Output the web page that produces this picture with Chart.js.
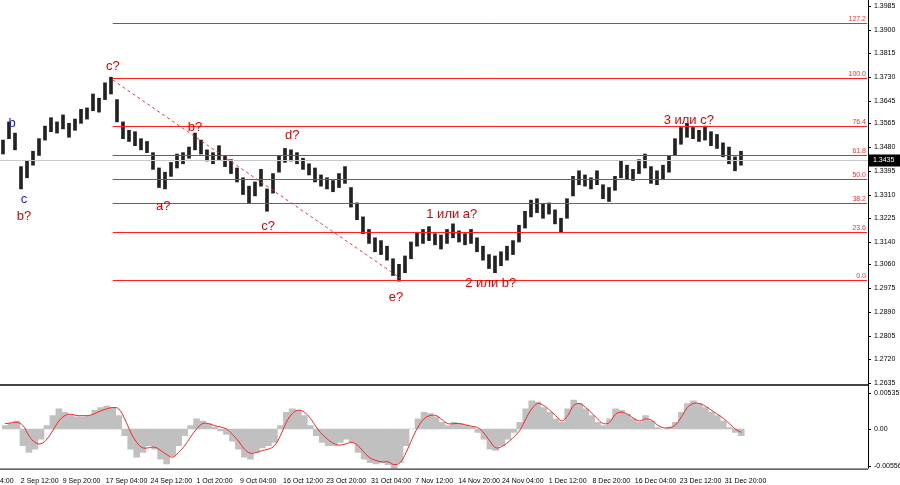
<!DOCTYPE html>
<html><head><meta charset="utf-8">
<script src="https://cdn.jsdelivr.net/npm/chart.js@4/dist/chart.umd.min.js"></script>
<style>
html,body{margin:0;padding:0;background:#fff;width:900px;height:485px;overflow:hidden}
#w1{position:absolute;left:0;top:0;width:900px;height:385px}
#w2{position:absolute;left:0;top:385px;width:900px;height:100px}
#sep{position:absolute;left:0;top:384px;width:868px;height:2px;background:#444}
</style></head><body>
<div id="w1"><canvas id="c1"></canvas></div>
<div id="sep"></div>
<div id="w2"><canvas id="c2"></canvas></div>
<script>
const mids=[1.3480,1.3540,1.3500,1.3370,1.3400,1.3440,1.3480,1.3530,1.3560,1.3550,1.3570,1.3540,1.3560,1.3590,1.3600,1.3640,1.3630,1.3680,1.3700,1.3610,
1.3540,1.3520,1.3510,1.3490,1.3480,1.3430,1.3370,1.3360,1.3400,1.3430,1.3440,1.3460,1.3500,1.3480,1.3450,1.3440,1.3460,1.3430,1.3410,1.3380,
1.3340,1.3310,1.3330,1.3370,1.3290,1.3350,1.3420,1.3450,1.3450,1.3440,1.3420,1.3400,1.3380,1.3360,1.3350,1.3340,1.3360,1.3380,1.3300,1.3250,
1.3200,1.3160,1.3130,1.3120,1.3100,1.3050,1.3030,1.3060,1.3110,1.3150,1.3160,1.3170,1.3150,1.3140,1.3160,1.3180,1.3160,1.3150,1.3160,1.3130,
1.3100,1.3070,1.3060,1.3080,1.3100,1.3120,1.3170,1.3220,1.3260,1.3270,1.3250,1.3260,1.3230,1.3200,1.3260,1.3340,1.3370,1.3360,1.3350,1.3370,
1.3320,1.3310,1.3350,1.3400,1.3390,1.3380,1.3410,1.3430,1.3380,1.3370,1.3390,1.3420,1.3480,1.3520,1.3540,1.3530,1.3520,1.3530,1.3510,1.3500,
1.3470,1.3450,1.3420,1.3440];
const ranges=[5,6,6,8,6,5,6,5,5,4,5,5,4,5,4,6,5,6,6,8,
6,4,5,4,4,6,7,6,5,5,4,4,6,5,4,4,5,4,5,5,
6,6,5,6,8,7,6,5,4,4,4,4,5,4,4,4,5,6,7,6,
6,5,5,5,5,6,6,6,6,5,5,5,4,5,5,5,4,4,5,5,
5,5,6,5,5,5,6,6,6,5,5,4,5,5,7,7,5,4,4,5,
5,5,5,6,5,4,5,5,6,5,5,6,6,6,5,4,4,5,5,5,
5,6,5,5];
const hist=[0.5,0.8,1.2,-2.5,-3.5,-3.0,-1.5,0.5,2.0,3.0,2.5,2.0,1.8,1.8,2.0,2.8,3.2,3.4,3.2,2.0,
-1.0,-3.0,-4.2,-3.5,-2.5,-3.0,-4.5,-5.2,-4.0,-2.5,-1.0,0.5,1.5,1.2,0.8,0.3,-0.3,-0.8,-1.8,-3.0,
-4.2,-4.5,-3.5,-2.8,-2.5,-2.0,0.5,2.5,3.0,2.8,2.0,0.5,-1.0,-2.0,-2.5,-2.5,-2.0,-1.5,-2.0,-3.5,
-4.5,-5.0,-5.2,-5.0,-5.3,-6.0,-5.0,-2.5,0.0,1.5,2.5,2.3,1.8,1.0,0.5,1.0,0.8,0.5,0.3,-0.5,
-1.5,-3.0,-3.2,-2.5,-1.5,-0.5,1.0,3.0,4.2,4.0,3.2,2.5,1.5,1.0,3.0,4.3,3.8,3.0,2.0,1.0,
0.5,1.5,3.0,2.8,2.2,1.5,1.0,2.0,1.2,0.2,0.0,0.3,1.0,2.5,3.8,4.2,3.8,3.2,2.5,2.0,
1.2,0.2,-0.5,-1.0];
const signal=[0.8,0.9,1.0,0.5,-1.0,-2.0,-2.2,-1.5,-0.2,1.2,2.0,2.2,2.0,2.0,2.0,2.3,2.7,3.0,3.2,3.0,
1.5,-0.5,-2.0,-2.8,-2.8,-2.7,-3.2,-3.8,-4.2,-3.5,-2.5,-1.2,0.0,0.8,0.8,0.5,0.3,0.0,-0.8,-1.8,
-3.0,-3.6,-3.5,-3.2,-3.0,-2.5,-1.0,1.0,2.3,2.8,2.5,1.6,0.3,-0.8,-1.6,-2.2,-2.4,-2.2,-2.0,-2.5,
-3.5,-4.3,-4.7,-4.9,-4.9,-5.3,-5.0,-3.5,-1.5,0.3,1.5,2.0,2.0,1.4,0.8,0.8,0.8,0.6,0.4,0.2,
-0.6,-1.8,-2.8,-2.6,-2.0,-1.2,-0.2,1.5,3.0,3.8,3.5,2.8,2.0,1.2,2.0,3.5,3.8,3.2,2.4,1.5,
0.8,1.0,2.2,2.5,2.2,1.6,1.2,1.5,1.3,0.6,0.2,0.2,0.6,1.8,3.2,3.8,3.8,3.4,2.8,2.2,
1.6,0.8,0.0,-0.5];
const priceTicks=[1.3985,1.3900,1.3815,1.3730,1.3645,1.3565,1.3480,1.3395,1.3310,1.3225,1.3140,1.3060,1.2975,1.2890,1.2805,1.2720,1.2635];
const macdTicks=[5.35,0,-5.56];
const macdTickLabels=["0.00535","0.00","-0.00556"];
const timeLabels=["4:00","2 Sep 12:00","9 Sep 20:00","17 Sep 04:00","24 Sep 12:00","1 Oct 20:00","9 Oct 04:00","16 Oct 12:00","23 Oct 20:00","31 Oct 04:00","7 Nov 12:00","14 Nov 20:00","24 Nov 04:00","1 Dec 12:00","8 Dec 20:00","16 Dec 04:00","23 Dec 12:00","31 Dec 20:00"];
const timePos=[0.3,5.8,12.8,20.3,27.8,35.0,42.3,49.8,57.0,64.5,71.7,79.2,86.5,94.0,101.3,108.7,116.2,123.7];
const fibNames=["127.2","100.0","76.4","61.8","50.0","38.2","23.6","0.0"];
const fibPrices=[1.3924,1.3727,1.3556,1.3451,1.3366,1.3280,1.3175,1.3004];
const fibStart=18.3;
const lastPrice=1.3435;
const waveText=["b","c","b?","c?","b?","a?","c?","d?","e?","1 или а?","2 или b?","3 или с?"];
const waveIdx=[1.5,3.5,3.5,18.3,32.0,26.7,44.2,48.2,65.5,74.8,81.3,114.3];
const wavePrice=[1.3563,1.3294,1.3233,1.3767,1.3552,1.3269,1.3197,1.3520,1.2943,1.3240,1.2993,1.3577];
const waveColor=["#2020d0","#2020d0","#e00000","#e00000","#e00000","#e00000","#e00000","#e00000","#e00000","#e00000","#e00000","#e00000"];
const dashFrom=[18.3,1.3720], dashTo=[66.2,1.3011];

const XMIN=-0.5, XMAX=144.17, AXW=32;
const idx=mids.map((_,i)=>i);
const FONT="'Liberation Sans', Arial, sans-serif";

function drawYLabels(c,y,a,vals,labs){
  c.fillStyle='#000';c.strokeStyle='#000';c.font='7px '+FONT;c.textAlign='left';c.textBaseline='middle';
  vals.forEach((v,k)=>{const py=Math.round(y.getPixelForValue(v))+0.5;
    c.beginPath();c.moveTo(a.right,py);c.lineTo(a.right+3,py);c.stroke();
    c.fillText(labs[k],a.right+6,py);});
}

const overlay={id:'ov',afterDatasetsDraw(ch){
  const c=ch.ctx,x=ch.scales.x,y=ch.scales.y,a=ch.chartArea;
  c.save();
  c.strokeStyle='#c8c8c8';c.lineWidth=1;c.beginPath();
  const ly=Math.round(y.getPixelForValue(lastPrice))+0.5;c.moveTo(0,ly);c.lineTo(a.right,ly);c.stroke();
  fibPrices.forEach((p,k)=>{
    const py=Math.round(y.getPixelForValue(p))+0.5;
    c.strokeStyle='#ff2020';c.lineWidth=1;c.beginPath();c.moveTo(x.getPixelForValue(fibStart),py);c.lineTo(a.right-1,py);c.stroke();
    c.fillStyle='#ff3030';c.font='7px '+FONT;c.textAlign='right';c.textBaseline='bottom';
    c.fillText(fibNames[k],a.right-2,py-1);
  });
  c.setLineDash([3,3]);c.strokeStyle='#ff3030';c.beginPath();
  c.moveTo(x.getPixelForValue(dashFrom[0]),y.getPixelForValue(dashFrom[1]));
  c.lineTo(x.getPixelForValue(dashTo[0]),y.getPixelForValue(dashTo[1]));c.stroke();c.setLineDash([]);
  c.font='13px '+FONT;c.textAlign='center';c.textBaseline='middle';
  waveText.forEach((t,k)=>{c.fillStyle=waveColor[k];c.fillText(t,x.getPixelForValue(waveIdx[k]),y.getPixelForValue(wavePrice[k]));});
  c.strokeStyle='#000';c.beginPath();c.moveTo(a.right+0.5,0);c.lineTo(a.right+0.5,ch.height);c.stroke();
  drawYLabels(c,y,a,priceTicks,priceTicks.map(v=>v.toFixed(4)));
  c.fillStyle='#000';c.fillRect(a.right+1,ly-6,31,12);
  c.fillStyle='#fff';c.font='7px '+FONT;c.textAlign='left';c.textBaseline='middle';c.fillText(lastPrice.toFixed(4),a.right+5,ly);
  c.restore();
}};

new Chart(document.getElementById('c1'),{
  type:'bar',
  data:{labels:idx,datasets:[{data:idx.map(i=>({x:i,y:[mids[i]-ranges[i]*0.0005,mids[i]+ranges[i]*0.0005]})),
    backgroundColor:'#222',barThickness:3,borderSkipped:false}]},
  options:{responsive:true,maintainAspectRatio:false,animation:false,
    layout:{padding:{left:0,top:0,bottom:0,right:AXW}},
    plugins:{legend:{display:false},tooltip:{enabled:false}},
    scales:{
      x:{type:'linear',offset:false,min:XMIN,max:XMAX,display:false},
      y:{display:false,min:1.2628,max:1.40065}
    }},
  plugins:[overlay]
});

const macdOv={id:'mo',afterDatasetsDraw(ch){
  const c=ch.ctx,a=ch.chartArea,y=ch.scales.y;c.save();c.strokeStyle='#000';c.lineWidth=1;
  c.beginPath();c.moveTo(a.right+0.5,0);c.lineTo(a.right+0.5,a.bottom);c.moveTo(0,a.bottom+0.5);c.lineTo(a.right,a.bottom+0.5);c.stroke();
  drawYLabels(c,y,a,macdTicks,macdTickLabels);
  c.restore();}};

new Chart(document.getElementById('c2'),{
  type:'bar',
  data:{labels:idx,datasets:[
    {type:'line',data:idx.map(i=>({x:i,y:signal[i]})),borderColor:'#ff2020',borderWidth:1,pointRadius:0,tension:0.4,order:0},
    {data:idx.map(i=>({x:i,y:hist[i]})),backgroundColor:'#c0c0c0',barThickness:6,order:1}
  ]},
  options:{responsive:true,maintainAspectRatio:false,animation:false,
    layout:{padding:{top:2,right:AXW,left:0,bottom:0}},
    plugins:{legend:{display:false},tooltip:{enabled:false}},
    scales:{
      x:{type:'linear',offset:false,min:XMIN,max:XMAX,grid:{display:false},border:{display:false},
        afterBuildTicks:s=>{s.ticks=timePos.map(v=>({value:v}));},
        ticks:{color:'#000',font:{size:7,family:FONT},maxRotation:0,autoSkip:false,padding:0,
          callback:(v,k)=>timeLabels[k]}},
      y:{display:false,min:-5.9,max:6.26}
    }},
  plugins:[macdOv]
});
</script></body></html>
